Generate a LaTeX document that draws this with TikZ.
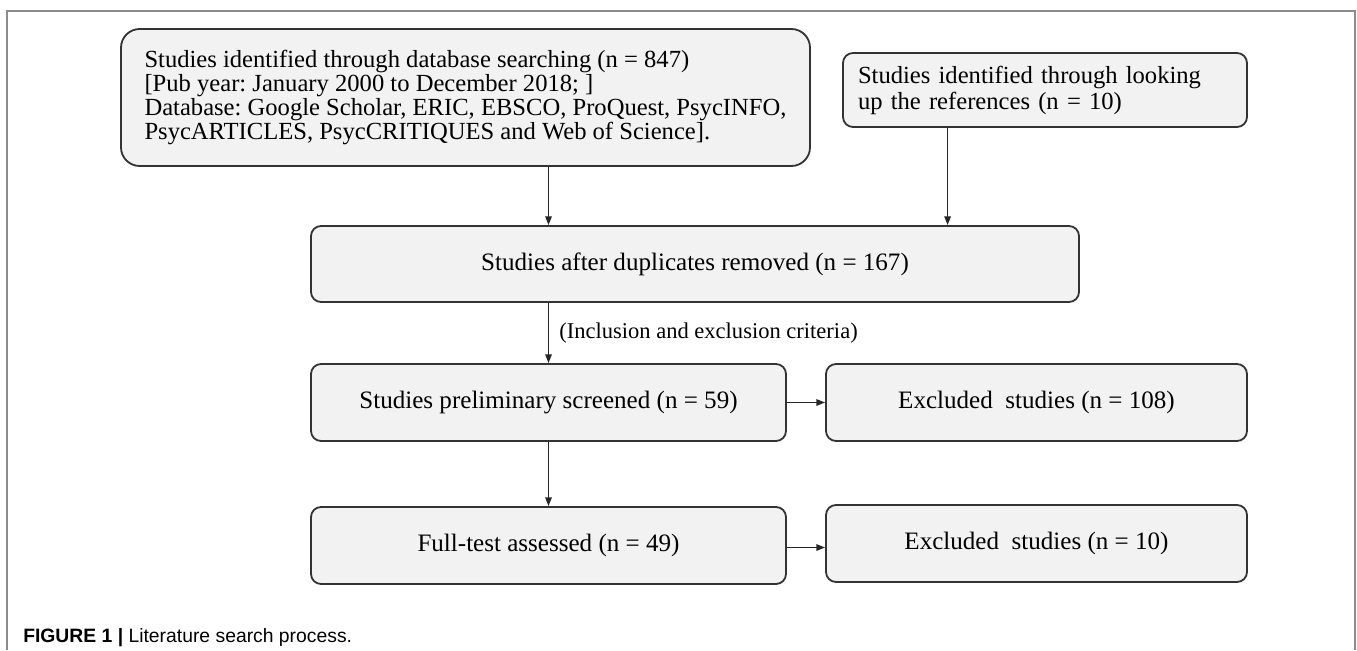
\documentclass[tikz,border=0pt]{standalone}
\usepackage{fontspec}
\setmainfont{Liberation Serif}
\newfontfamily\capfont{Liberation Sans}
\usetikzlibrary{arrows.meta,calc}
\begin{document}
\frenchspacing
\begin{tikzpicture}[x=0.75pt,y=-0.75pt,
  box/.style={draw=black!80, line width=1.35pt, fill=black!5, rounded corners=7.5pt,
    font=\fontsize{18.8}{17.8}\selectfont, inner sep=0pt, align=center},
  topfont/.style={font=\fontsize{18.45}{17.8}\selectfont},
  arr/.style={-{Triangle[length=6.5pt,width=4.8pt]}, line width=1.15pt, draw=black!85},
  lbl/.style={font=\fontsize{16.9}{18}\selectfont, inner sep=0pt, anchor=west, xshift=7.5pt}]
\useasboundingbox (0,0) rectangle (1357,650);
\draw[black!45, line width=1.1pt] (7,650) -- (7,11) -- (1355,11) -- (1355,650);

\node[box, topfont, minimum width={689*0.75pt}, minimum height={137*0.75pt}, rounded corners=14pt,
  align=left] (b1) at (465.5,97.5)
  {Studies identified through database searching (n = 847)\\
   {[}Pub year: January 2000 to December 2018; ]\\
   Database: Google Scholar, ERIC, EBSCO, ProQuest, PsycINFO,\\
   PsycARTICLES, PsycCRITIQUES and Web of Science].};
\node[box, font=\fontsize{18.45}{19.5}\selectfont, minimum width={404*0.75pt}, minimum height={74*0.75pt},
  text width={374*0.75pt}, align=left] (b2) at (1045,90)
  {Studies identified through looking\\ up the references (n = 10)};
\node[box, minimum width={768*0.75pt}, minimum height={76*0.75pt}] (b3) at (695,264)
  {Studies after duplicates removed (n = 167)};
\node[box, minimum width={475*0.75pt}, minimum height={77*0.75pt}] (b4) at (548.5,402.5)
  {Studies preliminary screened (n = 59)};
\node[box, minimum width={421*0.75pt}, minimum height={77*0.75pt}] (b5) at (1036.5,402.5)
  {Excluded\ \ studies (n = 108)};
\node[box, minimum width={475*0.75pt}, minimum height={77*0.75pt}] (b6) at (548.5,545.5)
  {Full-test assessed (n = 49)};
\node[box, minimum width={421*0.75pt}, minimum height={77*0.75pt}] (b7) at (1036.5,543.5)
  {Excluded\ \ studies (n = 10)};

\coordinate (c2) at ($(b2.south west)!0.26!(b2.south east)$);
\draw[arr] (b1.south -| b4.north) -- (b3.north -| b4.north);
\draw[arr] (c2) -- (c2 |- b3.north);
\draw[arr] (b3.south -| b4.north) -- node[lbl] {(Inclusion and exclusion criteria)} (b4.north);
\draw[arr] (b4.east) -- (b5.west);
\draw[arr] (b4.south) -- (b6.north);
\draw[arr] ([yshift=-1.5pt]b6.east) -- ([yshift=-1.5pt]b6.east -| b7.west);

\node[anchor=west, inner sep=0pt, font=\capfont\fontsize{14.5}{16}\selectfont] (cap) at (23,638)
  {\textbf{FIGURE 1 |} Literature search process.};
\end{tikzpicture}
\end{document}
